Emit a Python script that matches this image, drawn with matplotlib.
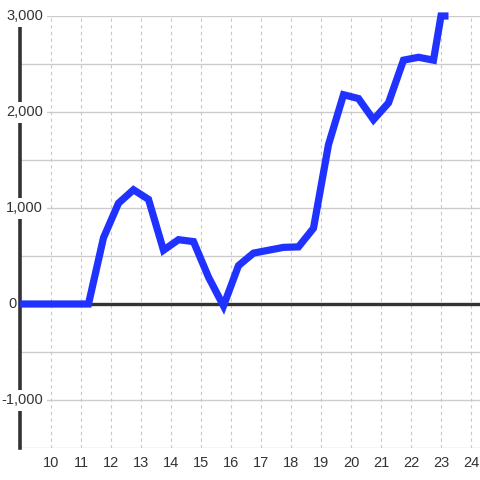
import numpy as np
import matplotlib
matplotlib.use("Agg")
import matplotlib.pyplot as plt
import matplotlib.transforms as mtransforms

# ---------- data ----------
hours = [8.97, 11.25, 11.75, 12.25, 12.75, 13.25, 13.75, 14.25, 14.75, 15.25,
         15.75, 16.25, 16.75, 17.25, 17.75, 18.25, 18.75, 19.25, 19.75, 20.25,
         20.75, 21.25, 21.75, 22.25, 22.75, 23.0, 23.25]
values = [0, 0, 690, 1050, 1190, 1090, 560, 670, 650, 280,
          -20, 400, 530, 560, 590, 595, 790, 1660, 2180, 2140,
          1920, 2095, 2540, 2570, 2540, 3000, 3000]
x_ticks = list(range(10, 25))
y_grid = list(range(-1500, 3001, 500))
y_labels = [-1000, 0, 1000, 2000, 3000]

plt.rcParams['font.family'] = ['Liberation Sans', 'DejaVu Sans']
text_color = "#333333"

fig = plt.figure(figsize=(4.8, 4.8), dpi=100)
ax = fig.add_axes([20 / 480, 32 / 480, 460 / 480, 432 / 480])
ax.set_xlim(10 - 31 / 30, 24.3)
ax.set_ylim(-1500, 3000)

# ---------- grid ----------
for y in y_grid:
    ax.axhline(y, color="#cccccc", lw=1, zorder=1)
for x in x_ticks:
    ax.axvline(x, color="#c8c8c8", lw=0.8, ls=(0, (3, 3)), zorder=1)

# zero line + left axis
ax.axhline(0, color=text_color, lw=2.4, zorder=3)
ax.axvline(ax.get_xlim()[0], color=text_color, lw=2.6, zorder=3, clip_on=False)

# ---------- series ----------
ax.plot(hours, values, color="#1f32ff", lw=5.2, zorder=7,
        solid_joinstyle="miter", solid_capstyle="butt", clip_on=False)

# ---------- y labels (sitting over the axis with white background) ----------
trans = mtransforms.blended_transform_factory(ax.transAxes, ax.transData)
for v in y_labels:
    if v == 0:
        ax.text(-3 / 460, v, "0", ha="right", va="center", transform=trans,
                fontsize=10.5, color=text_color, zorder=6, clip_on=False)
        continue
    ax.text(23 / 460, v, f"{v:,}", ha="right", va="center", transform=trans,
            fontsize=10.5, color=text_color, zorder=6, clip_on=False,
            bbox=dict(facecolor="white", edgecolor="none", pad=2.5))

# ---------- x axis ----------
for s in ax.spines.values():
    s.set_visible(False)
ax.set_yticks([])
ax.set_xticks(x_ticks)
ax.set_xticklabels([str(x) for x in x_ticks])
ax.tick_params(axis="x", length=0, pad=6, labelsize=10.5, labelcolor=text_color)

fig.savefig("out.png", dpi=100)
